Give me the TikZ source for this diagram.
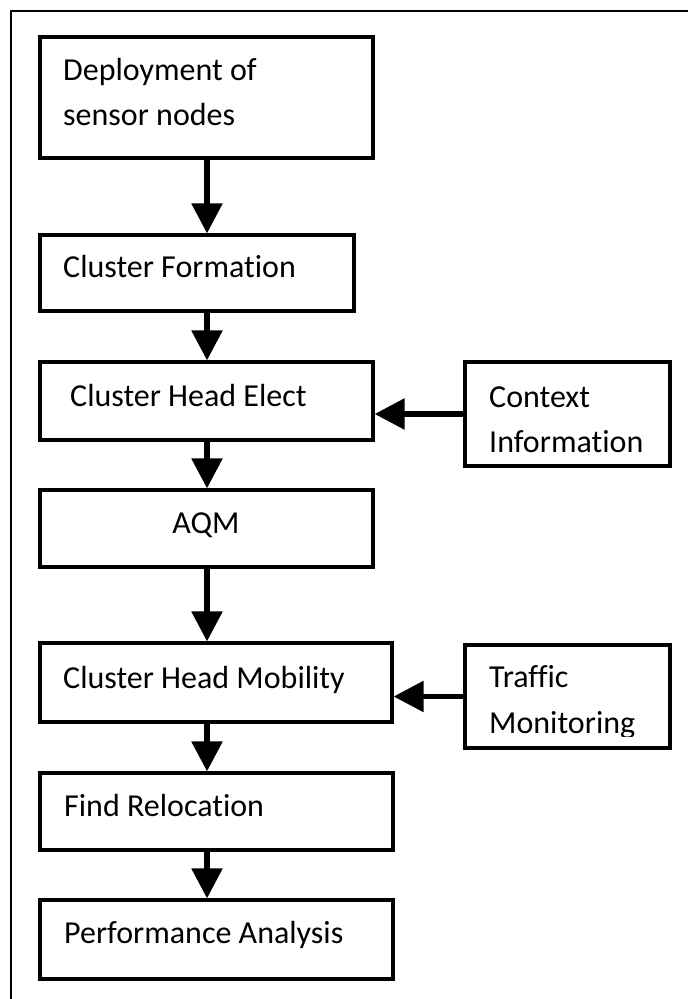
\documentclass[tikz,border=0pt]{standalone}
\usepackage{fontspec}
\setmainfont{Carlito}[Ligatures=NoCommon]
\usetikzlibrary{arrows.meta}
\begin{document}
\begin{tikzpicture}[x=1pt,y=-1pt,
  box/.style={draw=black,line width=3.2pt,inner sep=0pt,rectangle},
  lbl/.style={inner sep=0pt,anchor=base west,font=\fontsize{32}{38}\selectfont},
  arr/.style={line width=5.5pt,-{Triangle[length=30pt,width=30pt]}},
  frame/.style={line width=2pt}]
\useasboundingbox (0,0) rectangle (688,999);
% outer frame (clipped by page at right and bottom)
\coordinate (fbl) at (11,1010);
\coordinate (ftl) at (11,11);
\coordinate (ftr) at (700,11);
\draw[frame] (fbl) -- (ftl) -- (ftr);
% boxes
\node[box,minimum width=333pt,minimum height=121pt] (b1) at (206.5,97.5) {};
\node[box,minimum width=314pt,minimum height=76pt] (b2) at (197,273) {};
\node[box,minimum width=333pt,minimum height=78pt] (b3) at (206.5,401) {};
\node[box,minimum width=333pt,minimum height=77pt] (b4) at (206.5,528.5) {};
\node[box,minimum width=352pt,minimum height=79pt] (b5) at (216,682.5) {};
\node[box,minimum width=353pt,minimum height=77pt] (b6) at (216.5,811.5) {};
\node[box,minimum width=353pt,minimum height=79pt] (b7) at (216.5,939.5) {};
\node[box,minimum width=205pt,minimum height=104pt] (ctx) at (567.5,414) {};
\node[box,minimum width=205pt,minimum height=103pt] (tm) at (567.5,696.5) {};
% texts
\node[lbl] (t1a) at (63,80) {Deployment of};
\node[lbl] (t1b) at (63,125) {sensor nodes};
\node[lbl] (t2) at (63,277) {Cluster Formation};
\node[lbl] (t3) at (70,406) {Cluster Head Elect};
\node[lbl,anchor=base] (t4) at (206,533) {AQM};
\node[lbl] (t5) at (63,688) {Cluster Head Mobility};
\node[lbl] (t6) at (64,816) {Find Relocation};
\node[lbl] (t7) at (64,943) {Performance Analysis};
\node[lbl] (tc1) at (489,407) {Context};
\node[lbl] (tc2) at (489,452) {Information};
\node[lbl] (tt1) at (489,687) {Traffic};
\begin{scope}
\clip (470,700) rectangle (660,736);
\node[lbl] (tt2) at (489,733) {Monitoring};
\end{scope}
% connectors
\coordinate (ax) at (207,0);
\draw[arr] (b1.south -| ax) -- (b2.north -| ax);
\draw[arr] (b2.south -| ax) -- (b3.north -| ax);
\draw[arr] (b3.south -| ax) -- (b4.north -| ax);
\draw[arr] (b4.south -| ax) -- (b5.north -| ax);
\draw[arr] (b5.south -| ax) -- (b6.north -| ax);
\draw[arr] (b6.south -| ax) -- (b7.north -| ax);
\draw[arr] (ctx.west) -- (ctx.west -| b3.east);
\draw[arr] (tm.west) -- (tm.west -| b5.east);
\end{tikzpicture}
\end{document}
